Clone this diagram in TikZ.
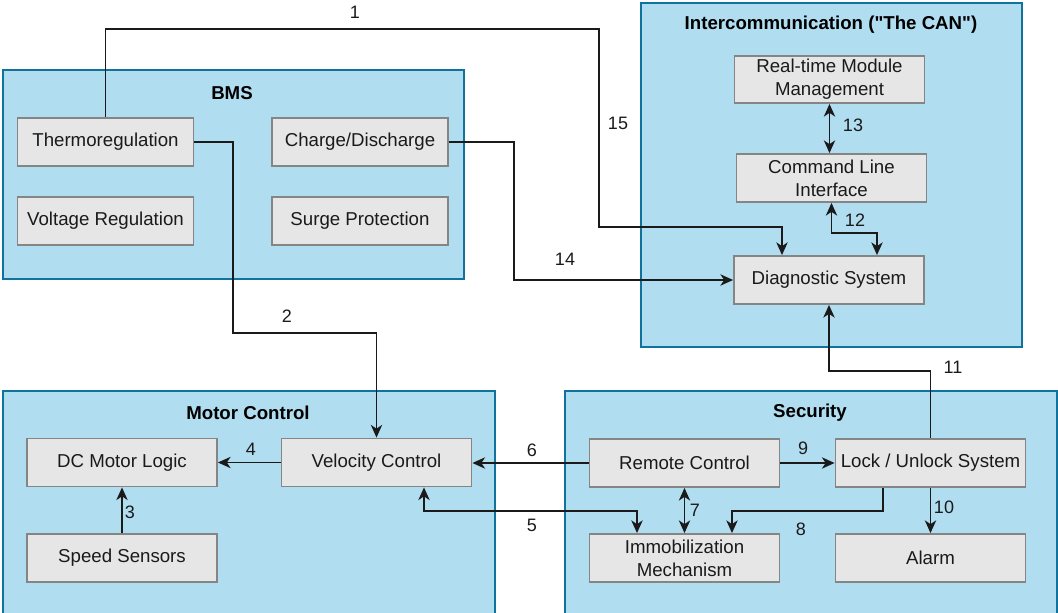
\documentclass[tikz,border=0pt]{standalone}
\usepackage{fontspec}
\setmainfont{Liberation Sans}
% a family without TeX input mapping, so straight double quotes stay straight
\newfontfamily\plainsans{Liberation Sans}
\usetikzlibrary{arrows.meta,calc}

\definecolor{groupfill}{HTML}{B1DDF0}
\definecolor{groupline}{HTML}{10739E}
\definecolor{boxfill}{HTML}{E6E6E6}
\definecolor{boxline}{HTML}{858585}
\definecolor{ink}{HTML}{1A1A1A}

\tikzset{
  group/.style={draw=groupline, fill=groupfill, line width=1.1pt, inner sep=0pt},
  grouptitle/.style={font=\plainsans\fontsize{14}{16}\selectfont\bfseries, text=black, inner sep=0pt},
  unit/.style={draw=boxline, fill=boxfill, line width=1.4pt, inner sep=1pt,
    minimum width=142.5pt, minimum height=36pt, align=center,
    font=\fontsize{14}{17}\selectfont, text=ink},
  bmsunit/.style={unit, minimum width=132pt},
  conn/.style={draw=ink, line width=1.1pt},
  arr/.style={conn, -{Stealth[length=9.5pt, width=8.5pt, inset=2.8pt]}},
  dbl/.style={conn, {Stealth[length=9.5pt, width=8.5pt, inset=2.8pt]}-{Stealth[length=9.5pt, width=8.5pt, inset=2.8pt]}},
  num/.style={font=\fontsize{13.5}{15}\selectfont, text=ink, inner sep=0pt}
}

\begin{document}
\begin{tikzpicture}[x=0.75pt, y=-0.75pt]
\useasboundingbox (0,0) rectangle (1058,613);

% ---- subsystem containers ----
\node[group, minimum width=345.75pt, minimum height=156.75pt] (bms) at (233.5,174.5) {};
\node[group, minimum width=285.75pt, minimum height=258pt] (can) at (831.5,175) {};
\node[group, minimum width=369pt, minimum height=171.75pt] (motor) at (249,505.5) {};
\node[group, minimum width=369pt, minimum height=171.75pt] (sec) at (811,505.5) {};

\node[grouptitle] (bmsT) at (232,93) {BMS};
\node[grouptitle] (canT) at (831,25) {Intercommunication ("The CAN")};
\node[grouptitle] (motorT) at (248,413) {Motor Control};
\node[grouptitle] (secT) at (810,413) {Security};

% ---- BMS units ----
\node[bmsunit] (thermo) at (105.5,142) {Thermoregulation};
\node[bmsunit] (volt) at (105.5,221) {Voltage Regulation};
\node[bmsunit] (charge) at (360,142) {Charge/Discharge};
\node[bmsunit] (surge) at (360,221) {Surge Protection};

% ---- CAN units ----
\node[unit, minimum height=35.25pt] (rtmm) at (829.5,79.5) {Real-time Module\\Management};
\node[unit] (cli) at (831.5,178) {Command Line\\Interface};
\node[unit] (diag) at (829,280) {Diagnostic System};

% ---- motor control units ----
\node[unit] (dcm) at (122,462.5) {DC Motor Logic};
\node[unit] (vel) at (376.5,462.5) {Velocity Control};
\node[unit] (speed) at (122,558) {Speed Sensors};

% ---- security units ----
\node[unit] (remote) at (684.5,463) {Remote Control};
\node[unit] (lock) at (930.5,463) {Lock / Unlock System};
\node[unit] (immob) at (684.5,558) {Immobilization\\Mechanism};
\node[unit] (alarm) at (930.5,558) {Alarm};

% ---- connections ----
\draw[arr] (thermo.north) |- (599,29) |- (782,227) -- ($(diag.north)+(-47,0)$);
\draw[arr] (thermo.east) -| (233,333) -| (vel.north);
\draw[arr] (charge.east) -| (514,280) -- (diag.west);
\draw[dbl] (rtmm.south) -- (rtmm.south |- cli.north);
\draw[dbl] (cli.south) |- (877,233) -- ($(diag.north)+(48,0)$);
\draw[arr] (lock.north) |- (829,371) -- (diag.south);
\draw[arr] (vel.west) -- (dcm.east);
\draw[arr] (speed.north) -- (dcm.south);
\draw[arr] (remote.west) -- (remote.west -| vel.east);
\draw[dbl] ($(vel.south)+(47.5,0)$) |- (637,511) -- ($(immob.north)+(-47.5,0)$);
\draw[dbl] (remote.south) -- (immob.north);
\draw[arr] ($(lock.south)+(-47.5,0)$) |- (732,511) -- ($(immob.north)+(47.5,0)$);
\draw[arr] (remote.east) -- (remote.east -| lock.west);
\draw[arr] (lock.south) -- (alarm.north);

% ---- connection numbers ----
\node[num] (n1) at (355,12) {1};
\node[num] (n15) at (618,123) {15};
\node[num] (n2) at (287,316) {2};
\node[num] (n14) at (565,259) {14};
\node[num] (n13) at (853,125) {13};
\node[num] (n12) at (855,220) {12};
\node[num] (n11) at (953,367) {11};
\node[num] (n4) at (251,449) {4};
\node[num] (n3) at (130,512) {3};
\node[num] (n6) at (532,450) {6};
\node[num] (n5) at (532,525) {5};
\node[num] (n7) at (695,510) {7};
\node[num] (n8) at (801,529) {8};
\node[num] (n9) at (803,448) {9};
\node[num] (n10) at (944,507) {10};
\end{tikzpicture}
\end{document}
